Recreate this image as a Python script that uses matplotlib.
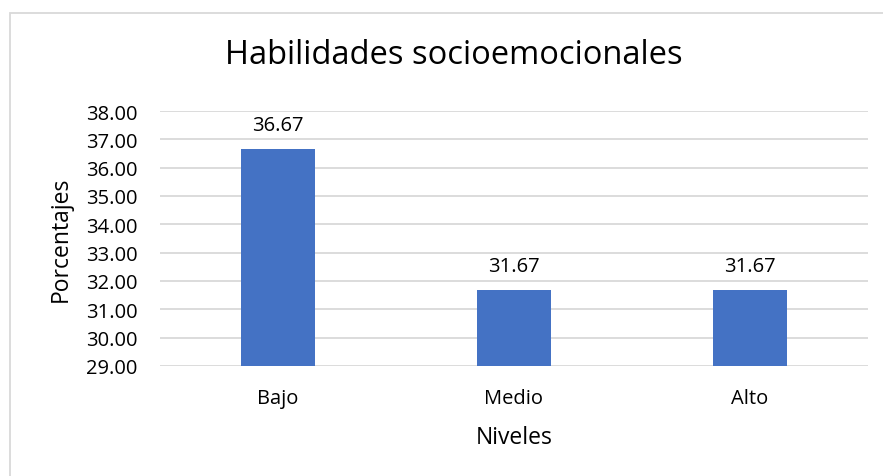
import matplotlib.pyplot as plt
from matplotlib.patches import Rectangle

# Chart data
categories = ['Bajo', 'Medio', 'Alto']
porcentajes = [36.67, 31.67, 31.67]
y_ticks = [29, 30, 31, 32, 33, 34, 35, 36, 37, 38]

plt.rcParams['font.family'] = ['Open Sans', 'DejaVu Sans']

W, H = 883, 477
fig = plt.figure(figsize=(W / 100, H / 100), dpi=100)

# light outer chart border (cut off at right and bottom)
fig.patches.append(Rectangle((9.5 / W, -0.05), 1.0, 1 - 13.5 / H + 0.05,
                             transform=fig.transFigure, fill=False,
                             edgecolor='#d9d9d9', linewidth=1.3))

ax = fig.add_axes([160 / W, 1 - 367 / H, (868 - 160) / W, (367 - 112) / H])
x = range(len(categories))
bars = ax.bar(x, porcentajes, width=0.31, color='#4472c4', zorder=3)

ax.set_ylim(29, 38)
ax.set_xlim(-0.5, 2.5)
ax.set_yticks(y_ticks)
ax.set_yticklabels([f'{v:.2f}' for v in y_ticks], fontsize=14.5)
ax.set_xticks(list(x))
ax.set_xticklabels(categories, fontsize=14.5)
ax.tick_params(length=0)
ax.tick_params(axis='y', pad=16)
ax.tick_params(axis='x', pad=16)
ax.grid(axis='y', color='#d9d9d9', linewidth=1.3, zorder=0)
for s in ax.spines.values():
    s.set_visible(False)

for b, v in zip(bars, porcentajes):
    ax.annotate(f'{v:.2f}', (b.get_x() + b.get_width() / 2, v),
                xytext=(0, 10), textcoords='offset points',
                ha='center', va='bottom', fontsize=14.5)

ax.set_ylabel('Porcentajes', fontsize=16.5, labelpad=10)
ax.set_xlabel('Niveles', fontsize=16.5, labelpad=12)
fig.text(454 / W, 1 - 55 / H, 'Habilidades socioemocionales',
         ha='center', va='center', fontsize=23.5)

fig.savefig('out.png', dpi=100)
